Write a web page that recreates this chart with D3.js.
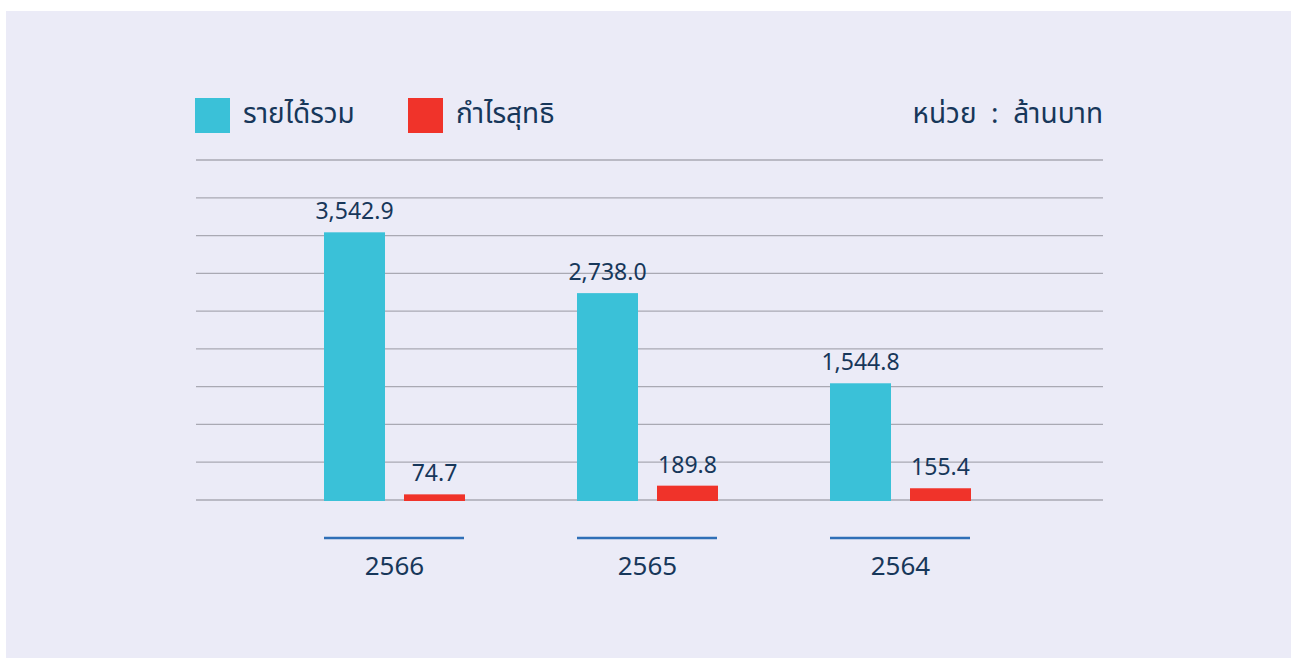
<!DOCTYPE html>
<html>
<head>
<meta charset="utf-8">
<script src="https://cdn.jsdelivr.net/npm/d3@7"></script>
<style>
  body { margin: 0; background: #fff; }
  text { font-family: "Noto Sans", "Noto Sans Thai", "Liberation Sans", sans-serif; fill: #17375a; }
</style>
</head>
<body>
<div class="container"></div>
<script>
// Frame
const width = 1297;
const height = 658;

// Data
const years = ['2566', '2565', '2564'];
const revenue = [3542.9, 2738.0, 1544.8];
const profit = [74.7, 189.8, 155.4];
const seriesNames = ['รายได้รวม', 'กำไรสุทธิ'];
const unitLabel = 'หน่วย\u00a0\u00a0:\u00a0\u00a0ล้านบาท';
const yTicks = [0, 500, 1000, 1500, 2000, 2500, 3000, 3500, 4000, 4500];

// Colours
const colors = ['#3ac1d8', '#f0332a'];
const gridColor = '#a9a9b3';
const lineBlue = '#2f6fb7';

const fmt = d3.format(',.1f');

function draw() {
  const svg = d3.select('.container')
    .append('svg')
    .attr('width', width)
    .attr('height', height);

  // panel
  svg.append('rect')
    .attr('x', 6).attr('y', 11)
    .attr('width', 1285).attr('height', 647)
    .attr('fill', '#ebebf7');

  const y = d3.scaleLinear().domain([0, 4500]).range([500, 160]);
  const x0 = d3.scaleBand().domain(years).range([268, 1027]);
  const x1 = d3.scaleBand().domain([0, 1]).range([-70.5, 70.5]).paddingInner(0.2375);

  // gridlines
  svg.append('g')
    .selectAll('line')
    .data(yTicks)
    .enter()
    .append('line')
    .attr('x1', 196).attr('x2', 1103)
    .attr('y1', d => y(d)).attr('y2', d => y(d))
    .attr('stroke', gridColor)
    .attr('stroke-width', 1.3);

  const rows = years.map((yr, i) => ({ year: yr, values: [revenue[i], profit[i]] }));

  const groups = svg.selectAll('.group')
    .data(rows)
    .enter()
    .append('g')
    .attr('class', 'group')
    .attr('transform', d => `translate(${x0(d.year) + x0.bandwidth() / 2},0)`);

  groups.selectAll('.bar')
    .data(d => d.values.map((v, k) => ({ v, k })))
    .enter()
    .append('rect')
    .attr('class', 'bar')
    .attr('x', d => x1(d.k))
    .attr('width', x1.bandwidth())
    .attr('y', d => y(d.v))
    .attr('height', d => y(0) - y(d.v) + 1)
    .attr('fill', d => colors[d.k]);

  groups.selectAll('.val')
    .data(d => d.values.map((v, k) => ({ v, k })))
    .enter()
    .append('text')
    .attr('class', 'val')
    .attr('x', d => x1(d.k) + x1.bandwidth() / 2)
    .attr('y', d => y(d.v) - 13)
    .attr('text-anchor', 'middle')
    .attr('font-size', 23)
    .text(d => fmt(d.v));

  // year underline + label
  groups.append('line')
    .attr('x1', x1(0)).attr('x2', x1(1) + x1.bandwidth() - 1)
    .attr('y1', 538).attr('y2', 538)
    .attr('stroke', lineBlue)
    .attr('stroke-width', 2.5);

  groups.append('text')
    .attr('x', 0)
    .attr('y', 575)
    .attr('text-anchor', 'middle')
    .attr('font-size', 26)
    .text(d => d.year);

  // legend
  const legendX = [195, 408];
  const legend = svg.selectAll('.legend')
    .data(seriesNames)
    .enter()
    .append('g')
    .attr('class', 'legend')
    .attr('transform', (d, i) => `translate(${legendX[i]},98)`);

  legend.append('rect')
    .attr('width', 35).attr('height', 35)
    .attr('fill', (d, i) => colors[i]);

  legend.append('text')
    .attr('x', 48)
    .attr('y', 25)
    .attr('font-size', 28)
    .text(d => d);

  svg.append('text')
    .attr('x', 1103)
    .attr('y', 123)
    .attr('text-anchor', 'end')
    .attr('font-size', 28)
    .text(unitLabel);
}

draw();
</script>
</body>
</html>
